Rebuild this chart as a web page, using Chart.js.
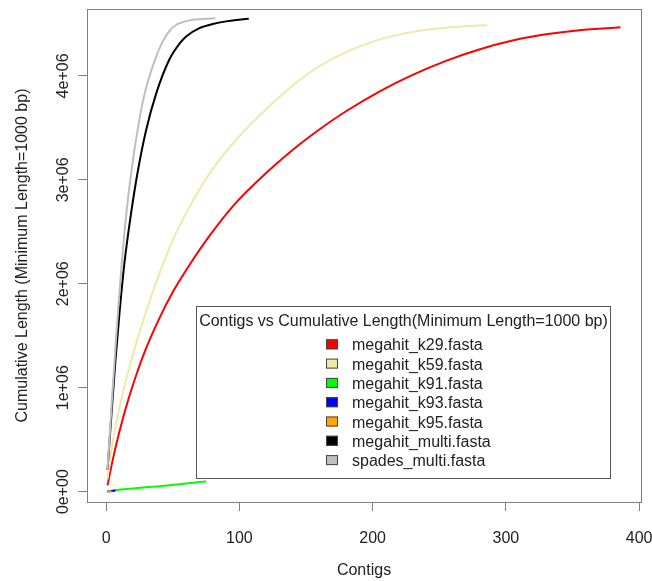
<!DOCTYPE html>
<html>
<head>
<meta charset="utf-8">
<script src="https://cdn.jsdelivr.net/npm/chart.js@4"></script>
<style>
html,body{margin:0;padding:0;background:#fff;}
canvas{display:block;}
</style>
</head>
<body>
<canvas id="c" width="652" height="581"></canvas>
<script>
// ---- data ----
const seriesNames = ['megahit_k29.fasta','megahit_k59.fasta','megahit_k91.fasta','megahit_k93.fasta','megahit_k95.fasta','megahit_multi.fasta','spades_multi.fasta'];
const seriesColors = ['#FF0000','#EEE8AA','#00FF00','#0000FF','#FFA500','#000000','#BEBEBE'];

const k29X = [1,5,10,16,22.5,30,40,50,62.5,77.5,95,120,145,160,180,205,230,255,280,305,330,355,386];
const k29Y = [60000,310000,580000,860000,1120000,1380000,1670000,1920000,2180000,2460000,2745000,3065000,3340000,3485000,3660000,3850000,4010000,4145000,4255000,4340000,4400000,4440000,4468000];

const k59X = [1,3,6,11.2,17.5,25,32.5,40,50,62.5,77.5,95,120,130,145,160,180,205,230,255,286];
const k59Y = [120000,320000,560000,880000,1200000,1530000,1830000,2100000,2420000,2740000,3060000,3350000,3680000,3798000,3958000,4093000,4229000,4349000,4424000,4464000,4490000];

const k91X = [1,6,20,40,60,75];
const k91Y = [2000,12000,30000,52000,78000,98000];

const k93X = [1,3,5,7];
const k93Y = [1000,4000,7000,10000];

const k95X = [1,2,4];
const k95Y = [500,1500,3000];

const multiX = [1,4,7,10,13.7,18.7,23.7,30,37.5,47.5,55,60,70,80,90,107];
const multiY = [210000,750000,1270000,1720000,2200000,2680000,3080000,3480000,3830000,4160000,4310000,4380000,4460000,4500000,4525000,4550000];

const spadesX = [1,4,6.5,9,11.5,15,18.7,23.7,28.7,36.2,42,48,53,58,65,82];
const spadesY = [210000,820000,1300000,1760000,2170000,2660000,3060000,3490000,3820000,4140000,4320000,4440000,4495000,4520000,4540000,4555000];

const xTicks = [0,100,200,300,400];
const xTickLabels = ['0','100','200','300','400'];
const yTicks = [0,1000000,2000000,3000000,4000000];
const yTickLabels = ['0e+00','1e+06','2e+06','3e+06','4e+06'];

const xTitle = 'Contigs';
const yTitle = 'Cumulative Length (Minimum Length=1000 bp)';
const legendTitle = 'Contigs vs Cumulative Length(Minimum Length=1000 bp)';

const allX = [k29X,k59X,k91X,k93X,k95X,multiX,spadesX];
const allY = [k29Y,k59Y,k91Y,k93Y,k95Y,multiY,spadesY];

const FONT = '"Liberation Sans", Arial, sans-serif';
const TXT = '#222222';

const datasets = seriesNames.map((name,i)=>({
  label: name,
  data: allX[i].map((x,j)=>({x:x, y:allY[i][j]})),
  borderColor: seriesColors[i],
  backgroundColor: seriesColors[i],
  borderWidth: 2,
  pointRadius: 0,
  showLine: true,
  cubicInterpolationMode: 'monotone',
  order: seriesNames.length - 1 - i
}));

const rDecor = {
  id: 'rDecor',
  afterDraw(chart){
    const ctx = chart.ctx;
    const a = chart.chartArea;
    const xs = chart.scales.x, ys = chart.scales.y;
    ctx.save();
    // plot box
    ctx.strokeStyle = '#808080';
    ctx.lineWidth = 1;
    ctx.strokeRect(Math.round(a.left)+0.5, Math.round(a.top)+0.5, Math.round(a.right-a.left), Math.round(a.bottom-a.top));
    // x tick labels
    ctx.fillStyle = TXT;
    ctx.font = '16px ' + FONT;
    ctx.textAlign = 'center';
    ctx.textBaseline = 'alphabetic';
    xTicks.forEach((v,i)=>{
      ctx.fillText(xTickLabels[i], xs.getPixelForValue(v), 543);
    });
    // y tick labels (rotated)
    yTicks.forEach((v,i)=>{
      ctx.save();
      ctx.translate(68, ys.getPixelForValue(v));
      ctx.rotate(-Math.PI/2);
      ctx.fillText(yTickLabels[i], 0, 0);
      ctx.restore();
    });
    // axis titles
    ctx.fillText(xTitle, (a.left+a.right)/2, 575);
    ctx.save();
    ctx.translate(27, (a.top+a.bottom)/2);
    ctx.rotate(-Math.PI/2);
    ctx.fillText(yTitle, 0, 0);
    ctx.restore();
    // legend
    const lx = 196.5, ly = 306.5, lw = 414, lh = 172;
    ctx.fillStyle = '#ffffff';
    ctx.fillRect(lx, ly, lw, lh);
    ctx.strokeStyle = '#555555';
    ctx.strokeRect(lx, ly, lw, lh);
    ctx.fillStyle = TXT;
    ctx.textAlign = 'center';
    ctx.fillText(legendTitle, lx + lw/2, 326);
    ctx.textAlign = 'left';
    chart.data.datasets.forEach((ds,i)=>{
      const cy = 344.3 + i*19.3;
      ctx.fillStyle = ds.borderColor;
      ctx.fillRect(326, cy-5, 12, 10);
      ctx.strokeStyle = '#444444';
      ctx.strokeRect(326.5, cy-4.5, 11, 9);
      ctx.fillStyle = TXT;
      ctx.fillText(ds.label, 352, cy+6);
    });
    ctx.restore();
  }
};

new Chart(document.getElementById('c'), {
  type: 'scatter',
  data: { datasets },
  options: {
    responsive: false,
    animation: false,
    layout: { padding: { top: 9, right: 11, left: 0, bottom: 0 } },
    plugins: { legend: { display: false }, tooltip: { enabled: false }, title: { display: false } },
    scales: {
      x: {
        type: 'linear',
        min: -14.4, max: 401.4,
        afterBuildTicks: s => { s.ticks = xTicks.map(v=>({value:v})); },
        afterFit: s => { s.height = 79; },
        ticks: { display: false },
        grid: { display: true, drawOnChartArea: false, drawTicks: true, tickLength: 9, tickColor: '#808080', color: '#808080' },
        border: { display: false }
      },
      y: {
        type: 'linear',
        min: -100000, max: 4644000,
        afterBuildTicks: s => { s.ticks = yTicks.map(v=>({value:v})); },
        afterFit: s => { s.width = 87; },
        ticks: { display: false },
        grid: { display: true, drawOnChartArea: false, drawTicks: true, tickLength: 9, tickColor: '#808080', color: '#808080' },
        border: { display: false }
      }
    }
  },
  plugins: [rDecor]
});
</script>
</body>
</html>
